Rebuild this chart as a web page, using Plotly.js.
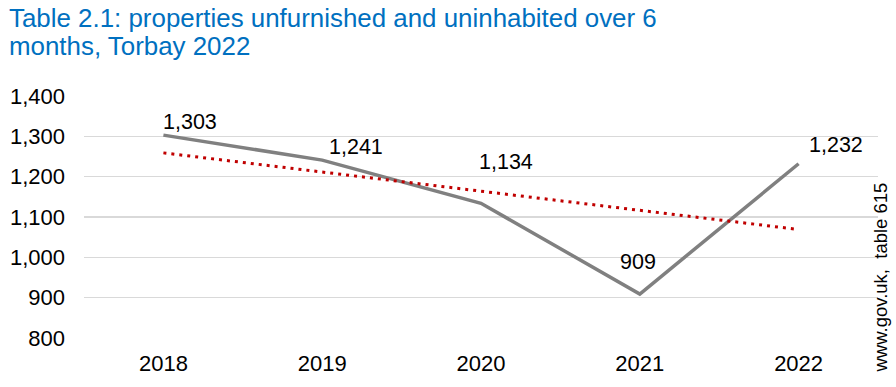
<!DOCTYPE html>
<html><head><meta charset="utf-8">
<script src="https://cdn.plot.ly/plotly-3.0.1.min.js"></script>
<style>html,body{margin:0;padding:0;background:#fff}#chart{width:896px;height:387px}</style>
</head><body><div id="chart"></div>
<script>
const years = ['2018','2019','2020','2021','2022'];
const properties = [1303, 1241, 1134, 909, 1232];
const trendYears = ['2018','2022'];
const trendValues = [1259, 1069];
const yTicks = [800, 900, 1000, 1100, 1200, 1300, 1400];
const titleLines = ['Table 2.1: properties unfurnished and uninhabited over 6', 'months, Torbay 2022'];
const sourceText = 'www.gov.uk,  table 615';

const labelOffsets = [[27,13],[34,13],[25,41],[-2,32],[37,19]];
const titleCenters = [18.5, 46.5];
const fmt = v => String(v).replace(/\B(?=(\d{3})+(?!\d))/g, ',');
const FONT = 'Liberation Sans, Arial, sans-serif';

const traces = [
  {x: years, y: properties, type:'scatter', mode:'lines',
   line:{color:'#808080', width:3.5}, hoverinfo:'skip'},
  {x: trendYears, y: trendValues, type:'scatter', mode:'lines',
   line:{color:'#C00000', width:3, dash:'3px,5px'}, hoverinfo:'skip'}
];

const annotations = properties.map((v,i)=>({
  x: i, y: v, xref:'x', yref:'y', text: fmt(v),
  showarrow:false, xanchor:'center', yanchor:'middle',
  xshift: labelOffsets[i][0], yshift: labelOffsets[i][1],
  font:{family:FONT, size:21.5, color:'#000'}
}));
annotations.push({
  xref:'paper', yref:'paper', x:1, y:0.25, xshift:2, textangle:-90,
  text:sourceText, showarrow:false, xanchor:'center', yanchor:'middle',
  font:{family:FONT, size:18.5, color:'#000'}
});
titleLines.forEach((t,i)=>annotations.push({
  xref:'paper', yref:'paper', x:(7-84)/794, y:(338-titleCenters[i])/242, xanchor:'left', yanchor:'middle',
  align:'left', text:t, showarrow:false,
  font:{family:FONT, size:25.9, color:'#0070C0'}
}));

const layout = {
  width:896, height:387,
  margin:{l:84, r:18, t:96, b:49},
  paper_bgcolor:'#fff', plot_bgcolor:'#fff',
  showlegend:false,
  xaxis:{type:'category', range:[-0.5,4.5], showgrid:false, zeroline:false, showline:false,
    ticks:'', tickfont:{family:FONT, size:22, color:'#000'},
    ticklabelstandoff:10},
  yaxis:{range:[800,1400], tickvals:yTicks, ticktext:yTicks.map(fmt),
    showgrid:true, gridcolor:'#D9D9D9', gridwidth:1.3, zeroline:false, showline:false, ticks:'',
    tickfont:{family:FONT, size:22, color:'#000'},
    ticklabelstandoff:18},
  annotations: annotations
};
Plotly.newPlot('chart', traces, layout, {staticPlot:true, displayModeBar:false});
</script></body></html>
